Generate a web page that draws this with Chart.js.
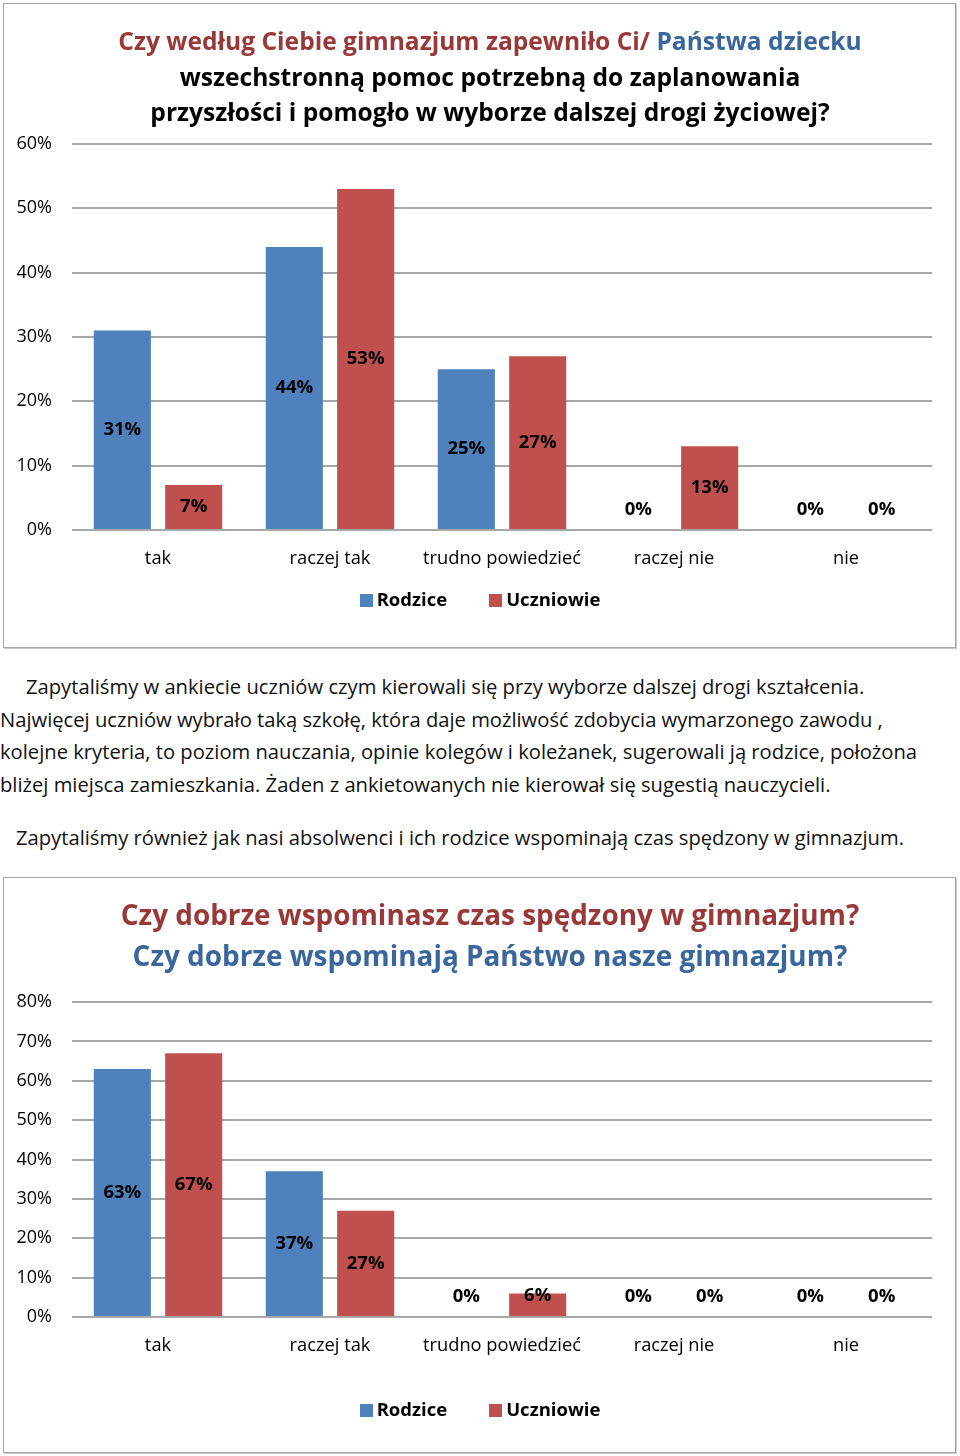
<!DOCTYPE html>
<html lang="pl">
<head>
<meta charset="utf-8">
<title>Ankieta gimnazjum</title>
<script src="https://cdn.jsdelivr.net/npm/chart.js@4.4.1/dist/chart.umd.min.js"></script>
<style>
    html, body { margin: 0; padding: 0; background: #fff; }
    body { width: 960px; height: 1456px; position: relative; overflow: hidden; font-family: 'Open Sans', sans-serif; color: #111; }
    .frame { position: absolute; left: 3px; width: 953px; border: 1px solid #a6a6a6; box-shadow: 1px 1px 0 #c8c8c8; box-sizing: border-box; }
    canvas { position: absolute; left: 0; }
    .title { position: absolute; left: 90px; width: 800px; text-align: center; font-weight: 700; z-index: 2; white-space: nowrap; }
    .red { color: #993838; }
    .blue { color: #3a669b; }
    .text { position: absolute; left: 0; font-size: 20.2px; line-height: 32.5px; white-space: nowrap; }
    .legend { position: absolute; left: 0; width: 960px; text-align: center; font-size: 18.5px; line-height: 22px; font-weight: 700; color: #000; white-space: nowrap; z-index: 2; }
    .legend .item { display: inline-block; margin: 0 21px; }
    .legend .box { display: inline-block; width: 13px; height: 13px; margin-right: 4px; vertical-align: -1px; }
</style>
</head>
<body>
<div class="frame" style="top:3px;height:645px;"></div>
<canvas id="choiceChart" width="960" height="650" style="top:0;"></canvas>
<div class="title" style="top:23px;font-size:24.6px;line-height:35.5px;color:#000;">
    <span class="red">Czy według Ciebie gimnazjum zapewniło Ci/</span> <span class="blue">Państwa dziecku</span><br>
    wszechstronną pomoc potrzebną do zaplanowania<br>
    przyszłości i pomogło w wyborze dalszej drogi życiowej?
</div>
<div class="legend" id="choiceLegend" style="top:588px;"></div>

<div class="text" style="top:670px;">
    <div style="padding-left:26px;">Zapytaliśmy w ankiecie uczniów czym kierowali się przy wyborze dalszej drogi kształcenia.</div>
    <div>Najwięcej uczniów wybrało taką szkołę, która daje możliwość zdobycia wymarzonego zawodu ,</div>
    <div>kolejne kryteria, to poziom nauczania, opinie kolegów i koleżanek, sugerowali ją rodzice, położona</div>
    <div>bliżej miejsca zamieszkania. Żaden z ankietowanych nie kierował się sugestią nauczycieli.</div>
</div>
<div class="text" style="top:821px;left:16px;">Zapytaliśmy również jak nasi absolwenci i ich rodzice wspominają czas spędzony w gimnazjum.</div>

<div class="frame" style="top:877px;height:576px;"></div>
<canvas id="memoryChart" width="960" height="584" style="top:872px;"></canvas>
<div class="title" style="top:894px;font-size:27.9px;line-height:41px;">
    <span class="red">Czy dobrze wspominasz czas spędzony w gimnazjum?</span><br>
    <span class="blue">Czy dobrze wspominają Państwo nasze gimnazjum?</span>
</div>
<div class="legend" id="memoryLegend" style="top:1398px;"></div>

<script>
const categories = ['tak', 'raczej tak', 'trudno powiedzieć', 'raczej nie', 'nie'];
const seriesNames = ['Rodzice', 'Uczniowie'];

// wykres 1: pomoc w wyborze dalszej drogi
const choiceParents = [31, 44, 25, 0, 0];
const choiceStudents = [7, 53, 27, 13, 0];
const choiceMax = 60;

// wykres 2: wspomnienia z gimnazjum
const memoryParents = [63, 37, 0, 0, 0];
const memoryStudents = [67, 27, 6, 0, 0];
const memoryMax = 80;

const tickStep = 10;
const colors = ['#4f81bd', '#c0504d'];

Chart.defaults.font.family = "'Open Sans', sans-serif";
Chart.defaults.color = '#000';

// etykiety wartości w środku słupka (jak w Excelu)
const valueLabels = {
    id: 'valueLabels',
    afterDatasetsDraw(chart) {
        const ctx = chart.ctx;
        ctx.save();
        ctx.font = "bold 18.5px 'Open Sans'";
        ctx.fillStyle = '#000';
        ctx.textAlign = 'center';
        ctx.textBaseline = 'middle';
        chart.data.datasets.forEach((ds, i) => {
            chart.getDatasetMeta(i).data.forEach((bar, j) => {
                const y = Math.min((bar.y + bar.base) / 2, bar.base - 20);
                ctx.fillText(ds.data[j] + '%', bar.x, y);
            });
        });
        ctx.restore();
    }
};

// legenda w HTML, zbudowana z datasetów wykresu
function buildLegend(chart, elId) {
    const el = document.getElementById(elId);
    chart.data.datasets.forEach(ds => {
        const item = document.createElement('span');
        item.className = 'item';
        const box = document.createElement('span');
        box.className = 'box';
        box.style.background = ds.backgroundColor;
        item.appendChild(box);
        item.appendChild(document.createTextNode(ds.label));
        el.appendChild(item);
    });
}

function makeChart(id, parents, students, max, pad) {
    return new Chart(document.getElementById(id), {
        type: 'bar',
        data: {
            labels: categories,
            datasets: [
                { label: seriesNames[0], data: parents, backgroundColor: colors[0] },
                { label: seriesNames[1], data: students, backgroundColor: colors[1] }
            ]
        },
        options: {
            responsive: false,
            animation: false,
            categoryPercentage: 0.83,
            barPercentage: 0.8,
            layout: { padding: pad },
            plugins: {
                legend: { display: false },
                tooltip: { enabled: false }
            },
            scales: {
                x: {
                    grid: { display: false },
                    border: { display: false },
                    ticks: { padding: 10, font: { size: 18.3 } },
                    afterFit: s => { s.height = 50; }
                },
                y: {
                    min: 0,
                    max: max,
                    border: { display: false },
                    grid: { color: '#a8a8a8', lineWidth: 2, drawTicks: false },
                    ticks: {
                        stepSize: tickStep,
                        padding: 20,
                        font: { size: 18 },
                        callback: v => v + '%'
                    },
                    afterFit: s => { s.width = 72; }
                }
            }
        },
        plugins: [valueLabels]
    });
}

const choiceChart = makeChart('choiceChart', choiceParents, choiceStudents, choiceMax,
    { top: 144, right: 28, bottom: 70, left: 0 });
const memoryChart = makeChart('memoryChart', memoryParents, memoryStudents, memoryMax,
    { top: 130, right: 28, bottom: 89, left: 0 });
buildLegend(choiceChart, 'choiceLegend');
buildLegend(memoryChart, 'memoryLegend');
</script>
</body>
</html>
